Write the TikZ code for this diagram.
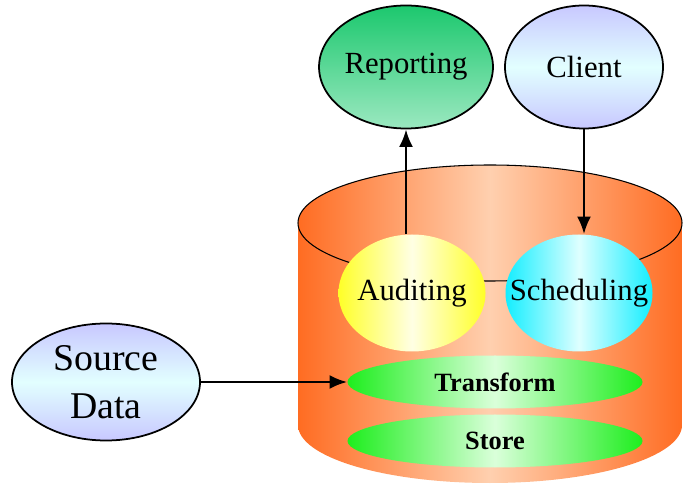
\documentclass[tikz,border=0pt]{standalone}
\usepackage{fontspec}
\setmainfont{Liberation Serif}
\usepackage{tikz}
\usetikzlibrary{shapes.geometric, arrows.meta}
\definecolor{cylside}{RGB}{255,108,34}
\definecolor{cylmid}{RGB}{255,208,175}
\definecolor{audyellow}{RGB}{255,255,40}
\definecolor{audmid}{RGB}{255,255,228}
\definecolor{schcyan}{RGB}{20,238,255}
\definecolor{schmid}{RGB}{222,255,255}
\definecolor{laygreen}{RGB}{30,238,30}
\definecolor{laymid}{RGB}{218,255,218}
\definecolor{repgreen}{RGB}{28,200,110}
\definecolor{replight}{RGB}{155,232,192}
\definecolor{lavender}{RGB}{200,200,255}
\definecolor{lavmid}{RGB}{226,255,255}
\tikzset{>={Latex[length=10pt,width=8pt]}}
\tikzset{
  bubble/.style={ellipse, inner sep=0pt, font=\fontsize{17.5}{21}\selectfont},
  outer/.style={bubble, draw=black, line width=1pt, minimum width=3.16cm, minimum height=2.46cm},
  inner/.style={bubble, inner xsep=-15pt, minimum width=2.94cm, minimum height=2.34cm},
  layer/.style={ellipse, inner sep=0pt, minimum width=5.9cm, minimum height=1.06cm,
    left color=laygreen, right color=laygreen, middle color=laymid,
    font=\bfseries\fontsize{15}{18}\selectfont},
  link/.style={->, line width=1.5pt},
}

\begin{document}
\begin{tikzpicture}[]
\useasboundingbox (0,0) rectangle (13.66,9.76);

 % Cylinder
 \shade[left color=cylside, right color=cylside, middle color=cylmid]
   (5.96,5.3) -- (5.96,1.26) arc[start angle=180, end angle=360, x radius=3.84, y radius=1.16]
   -- (13.64,5.3) arc[start angle=0, end angle=180, x radius=3.84, y radius=1.16] -- cycle;
 \draw[black, line width=0.6pt] (9.8,5.3) ellipse[x radius=3.84, y radius=1.16];

 % Inside the cylinder
 \node[inner, left color=audyellow, right color=audyellow, middle color=audmid] (auditing) at (8.24,3.9) {Auditing};
 \node[inner, left color=schcyan, right color=schcyan, middle color=schmid] (scheduling) at (11.58,3.9) {Scheduling};
 \node[layer] (transform) at (9.9,2.12) {Transform};
 \node[layer] (store) at (9.9,0.94) {Store};

 % Outside
 \node[outer, top color=repgreen, bottom color=replight] (reporting) at (8.12,8.42) {Reporting};
 \node[outer, top color=lavender, bottom color=lavender, middle color=lavmid] (client) at (11.68,8.42) {Client};
 \node[outer, top color=lavender, bottom color=lavender, middle color=lavmid,
   minimum width=3.76cm, minimum height=2.34cm, align=center,
   font=\fontsize{21.5}{27}\selectfont] (source) at (2.12,2.12) {Source\\Data};

% Lines
 \draw[link] (source.east) -- (transform.west);
 \draw[link] (auditing.north -| reporting) -- (reporting.south);
 \draw[link] (client.south) -- (client.south |- scheduling.north);

\end{tikzpicture}
\end{document}
